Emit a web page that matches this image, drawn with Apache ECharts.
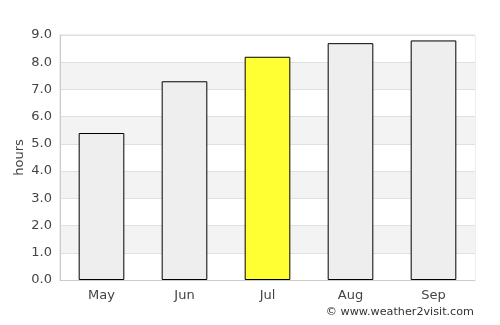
<!DOCTYPE html>
<html>
<head>
<meta charset="utf-8">
<script src="https://cdn.jsdelivr.net/npm/echarts@6/dist/echarts.min.js"></script>
<style>
  html, body { margin: 0; padding: 0; background: #fff; }
  #chart { width: 500px; height: 325px; }
</style>
</head>
<body>
<div id="chart"></div>
<script>
const months = ['May', 'Jun', 'Jul', 'Aug', 'Sep'];
const hours = [5.4, 7.3, 8.2, 8.7, 8.8];
const highlight = 'Jul';

const chart = echarts.init(document.getElementById('chart'));

const option = {
    animation: false,
    textStyle: { fontFamily: 'DejaVu Sans' },
    grid: {
        left: 60,
        right: 25,
        top: 35,
        bottom: 45,
        show: true,
        borderColor: '#ddd',
        borderWidth: 1,
        backgroundColor: 'transparent'
    },
    xAxis: {
        type: 'category',
        data: months,
        axisLine: { lineStyle: { color: '#ccc' } },
        axisTick: { show: false },
        axisLabel: { color: '#444', fontSize: 13, margin: 9 }
    },
    yAxis: {
        type: 'value',
        min: 0,
        max: 9,
        interval: 1,
        name: 'hours',
        nameLocation: 'middle',
        nameGap: 34,
        nameMoveOverlap: false,
        nameTextStyle: { color: '#444', fontSize: 13 },
        axisLine: { show: true, lineStyle: { color: '#ccc' } },
        axisLabel: {
            color: '#444',
            fontSize: 13,
            margin: 8,
            formatter: v => v.toFixed(1)
        },
        splitLine: { lineStyle: { color: '#e0e0e0' } },
        splitArea: { show: true, areaStyle: { color: ['#ffffff', '#f3f3f3'] } }
    },
    series: [{
        type: 'bar',
        barWidth: '55%',
        data: hours.map((v, i) => ({
            value: v,
            itemStyle: { color: months[i] === highlight ? '#ffff33' : '#eeeeee' }
        })),
        itemStyle: { borderColor: '#000', borderWidth: 1 }
    }],
    graphic: [{
        type: 'text',
        right: 26,
        top: 307,
        style: {
            text: '© www.weather2visit.com',
            fill: '#333',
            font: '11.2px DejaVu Sans'
        }
    }]
};

chart.setOption(option);
</script>
</body>
</html>
